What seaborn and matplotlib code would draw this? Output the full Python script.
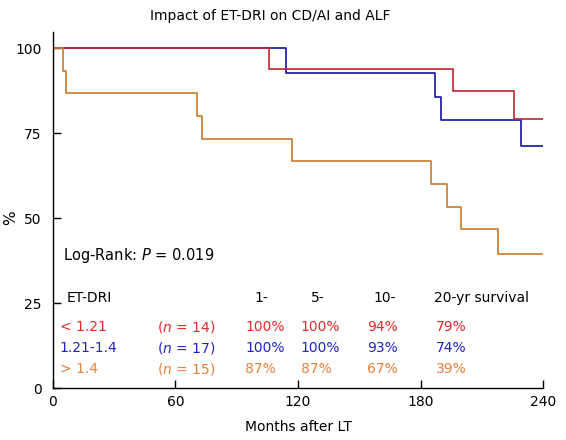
import pandas as pd
import matplotlib
matplotlib.use("Agg")
import matplotlib.pyplot as plt
import seaborn as sns

# Kaplan-Meier step data (months, survival %)
red_t = [0, 106, 196, 226, 240]
red_s = [100, 93.8, 87.5, 79.0, 79.0]
blue_t = [0, 114, 187, 190, 229, 240]
blue_s = [100, 92.6, 85.5, 78.8, 71.1, 71.1]
orange_t = [0, 5, 6.5, 70.5, 73, 117, 185, 193, 200, 218, 240]
orange_s = [100, 93.3, 86.7, 80.0, 73.3, 66.7, 60.0, 53.3, 46.7, 39.4, 39.4]

groups = ["< 1.21", "1.21-1.4", "> 1.4"]
n_labels = ["($n$ = 14)", "($n$ = 17)", "($n$ = 15)"]
rates = [["100%", "100%", "94%", "79%"],
         ["100%", "100%", "93%", "74%"],
         ["87%", "87%", "67%", "39%"]]
headers = ["ET-DRI", "1-", "5-", "10-", "20-yr survival"]

line_colors = {"< 1.21": "#c42230", "1.21-1.4": "#1414a0", "> 1.4": "#c87a2a"}
text_colors = ["#e42a2a", "#2222cc", "#e8803c"]

df = pd.concat([
    pd.DataFrame({"month": blue_t, "surv": blue_s, "group": "1.21-1.4"}),
    pd.DataFrame({"month": red_t, "surv": red_s, "group": "< 1.21"}),
    pd.DataFrame({"month": orange_t, "surv": orange_s, "group": "> 1.4"}),
])

sns.set_style("ticks")
plt.rcParams["font.family"] = ["DejaVu Sans"]
plt.rcParams["mathtext.fontset"] = "dejavusans"
plt.rcParams["text.color"] = "black"
plt.rcParams["axes.labelcolor"] = "black"

fig = plt.figure(figsize=(5.66, 4.4), dpi=100)
ax = fig.add_axes([0.0936, 0.118, 0.8658, 0.809])

for g in ["1.21-1.4", "< 1.21", "> 1.4"]:
    sub = df[df["group"] == g]
    sns.lineplot(data=sub, x="month", y="surv", ax=ax, color=line_colors[g],
                 drawstyle="steps-post", linewidth=1.2, estimator=None,
                 legend=False)

ax.set_xlim(0, 240)
ax.set_ylim(0, 104.7)
ax.set_xticks([0, 60, 120, 180, 240])
ax.set_yticks([0, 25, 50, 75, 100])
ax.tick_params(direction="in", length=6, width=1, labelsize=10, colors="black")
ax.tick_params(axis="y", pad=8)
ax.tick_params(axis="x", pad=5)
for s in ["top", "right"]:
    ax.spines[s].set_visible(False)
for s in ["left", "bottom"]:
    ax.spines[s].set_color("black")
    ax.spines[s].set_linewidth(1)

ax.set_xlabel("Months after LT", fontsize=10, labelpad=8)
ax.set_ylabel("%", fontsize=11)
ax.yaxis.set_label_coords(-0.072, 0.48)
fig.text(270 / 566, 1 - 16 / 440, "Impact of ET-DRI on CD/AI and ALF",
         ha="center", va="center", fontsize=10)

# annotations inside the plot
ax.text(5, 39.1, "Log-Rank: $P$ = 0.019", fontsize=10.5, va="center")
head_x = [6.7, 98.5, 126.3, 157, 186.4]
for x, h in zip(head_x, headers):
    ax.text(x, 26.4, h, fontsize=10, va="center")

rate_x = [94.1, 121.4, 153.7, 187.6]
row_y = [18.0, 11.7, 5.6]
for i in range(3):
    c = text_colors[i]
    ax.text(3.4, row_y[i], groups[i], color=c, fontsize=10, va="center")
    ax.text(51.1, row_y[i], n_labels[i], color=c, fontsize=10, va="center")
    for x, r in zip(rate_x, rates[i]):
        ax.text(x, row_y[i], r, color=c, fontsize=10, va="center")

fig.savefig("out.png", dpi=100)
